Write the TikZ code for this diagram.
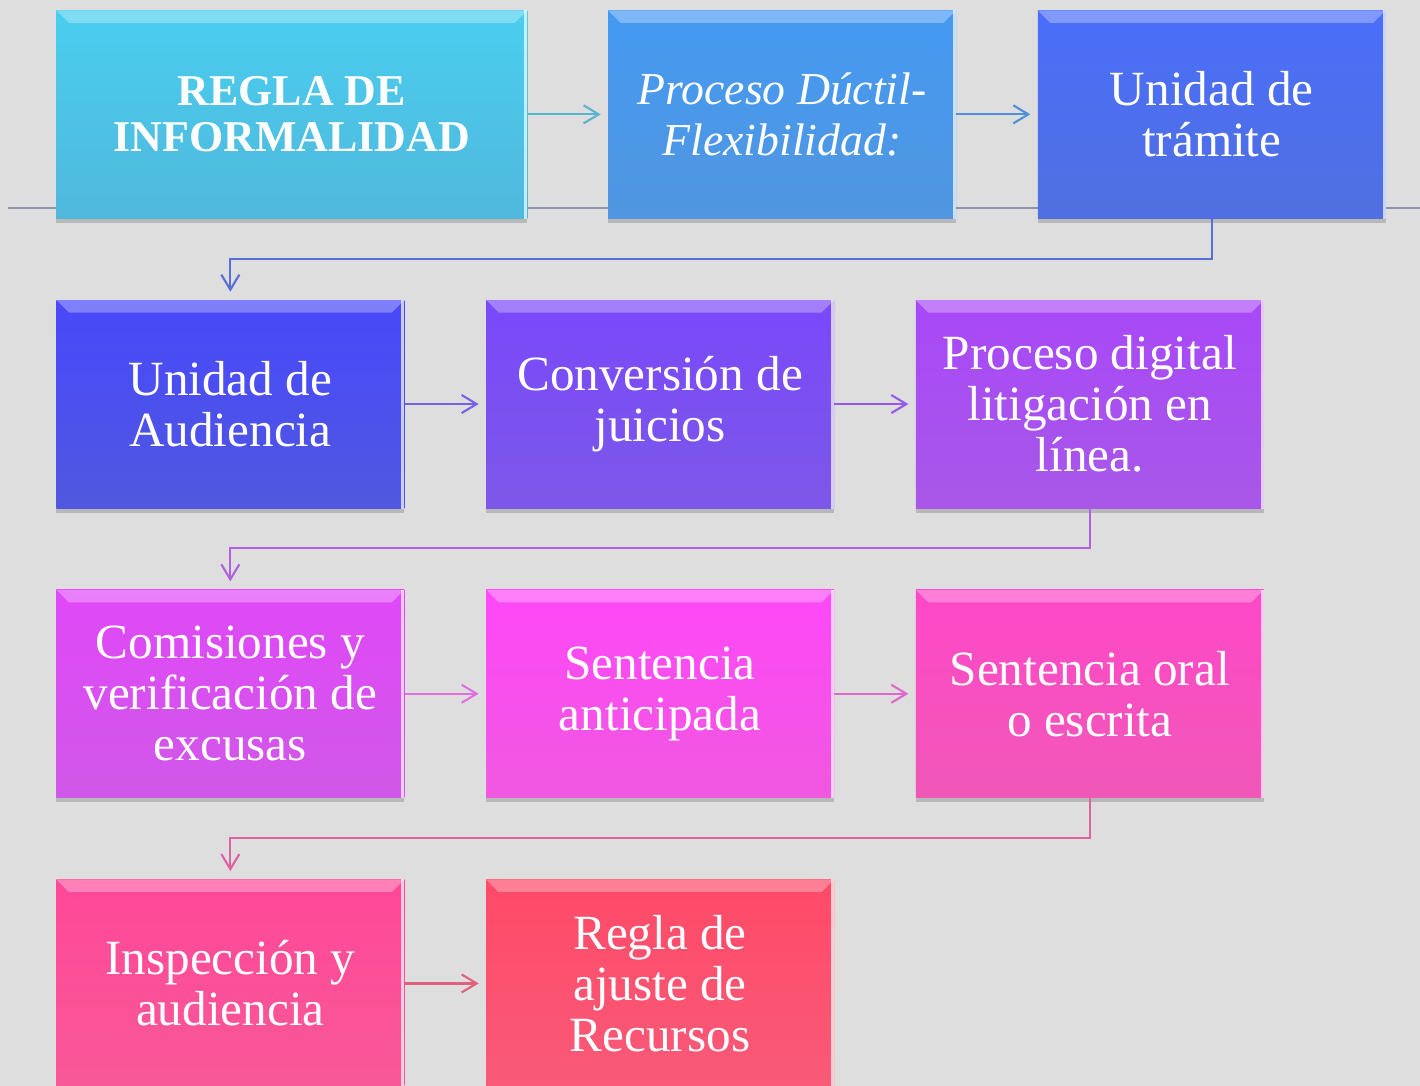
\documentclass[tikz,border=0pt]{standalone}
\usepackage{fontspec}
\setmainfont{Liberation Serif}
\usetikzlibrary{shapes, arrows.meta, positioning, calc, shadows}

\definecolor{bggray}{HTML}{DEDEDE}
\definecolor{rulegray}{HTML}{8894AC}
\definecolor{reglaTop}{HTML}{4ACEF0}\definecolor{reglaBot}{HTML}{50B8DC}
\definecolor{ductilTop}{HTML}{4599F2}\definecolor{ductilBot}{HTML}{5096E0}
\definecolor{tramiteTop}{HTML}{4A6EFA}\definecolor{tramiteBot}{HTML}{5070E0}
\definecolor{audienciaTop}{HTML}{4848FA}\definecolor{audienciaBot}{HTML}{5058E0}
\definecolor{conversionTop}{HTML}{7A48FA}\definecolor{conversionBot}{HTML}{7C58E8}
\definecolor{digitalTop}{HTML}{A848F8}\definecolor{digitalBot}{HTML}{A858E8}
\definecolor{comisionesTop}{HTML}{E048F8}\definecolor{comisionesBot}{HTML}{D058E8}
\definecolor{anticipadaTop}{HTML}{FF48F8}\definecolor{anticipadaBot}{HTML}{F058E0}
\definecolor{oralTop}{HTML}{FF48C8}\definecolor{oralBot}{HTML}{F058B8}
\definecolor{inspeccionTop}{HTML}{FF4898}\definecolor{inspeccionBot}{HTML}{F85898}
\definecolor{ajusteTop}{HTML}{FF4A68}\definecolor{ajusteBot}{HTML}{F85A78}

\tikzset{
	box/.style={rectangle, minimum width=6.96cm, minimum height=4.16cm, align=center, text=white,
		font=\fontsize{28}{29}\selectfont, top color=#1Top, bottom color=#1Bot,
		drop shadow={shadow xshift=0cm, shadow yshift=-0.09cm, opacity=0.4},
		path picture={
			\fill[white, opacity=0.3] (path picture bounding box.north west) -- (path picture bounding box.north east)
				-- ++(-0.25,-0.25) -- ($(path picture bounding box.north west)+(0.25,-0.25)$) -- cycle;
			\fill[white, opacity=0.7] (path picture bounding box.north east) rectangle ++(-0.06,-4.2);
		}},
	link/.style={line width=1.2pt, -{Straight Barb[length=3mm, width=3.6mm]}}
}

\begin{document}
\begin{tikzpicture}[node distance=1.62cm]
	\fill[bggray] (0,0) rectangle (28.4,-21.72);
	\useasboundingbox (0,0) rectangle (28.4,-21.72);
	\draw[rulegray, line width=1.1pt] (0.16,-4.16) -- (28.4,-4.16);

	\node[box=regla, minimum width=9.42cm, anchor=north west, font=\bfseries\fontsize{25}{26}\selectfont] (regla) at (1.12,-0.2) {REGLA DE\\INFORMALIDAD};
	\node[box=ductil, right=1.6cm of regla, font=\itshape\fontsize{26}{29}\selectfont] (ductil) {Proceso Dúctil-\\Flexibilidad:};
	\node[box=tramite, right=of ductil] (tramite) {Unidad de\\trámite};

	\node[box=audiencia, below=of regla.south west, anchor=north west] (audiencia) {Unidad de\\Audiencia};
	\node[box=conversion, right=of audiencia] (conversion) {Conversión de\\juicios};
	\node[box=digital, right=of conversion] (digital) {Proceso digital\\litigación en\\línea.};

	\node[box=comisiones, below=of audiencia] (comisiones) {Comisiones y\\verificación de\\excusas};
	\node[box=anticipada, right=of comisiones] (anticipada) {Sentencia\\anticipada};
	\node[box=oral, right=of anticipada] (oral) {Sentencia oral\\o escrita};

	\node[box=inspeccion, below=of comisiones] (inspeccion) {Inspección y\\audiencia};
	\node[box=ajuste, right=of inspeccion] (ajuste) {Regla de\\ajuste de\\Recursos};

	\draw[link, color={rgb,255:red,90;green,180;blue,208}] (regla.east) -- ([xshift=-0.14cm]ductil.west);
	\draw[link, color={rgb,255:red,80;green,144;blue,216}] (ductil.east) -- ([xshift=-0.14cm]tramite.west);
	\draw[link, color={rgb,255:red,90;green,110;blue,216}] (tramite.south) -- ++(0,-0.8) -| ([yshift=0.16cm]audiencia.north);

	\draw[link, color={rgb,255:red,120;green,96;blue,232}] (audiencia.east) -- ([xshift=-0.14cm]conversion.west);
	\draw[link, color={rgb,255:red,150;green,90;blue,232}] (conversion.east) -- ([xshift=-0.14cm]digital.west);
	\draw[link, color={rgb,255:red,176;green,96;blue,224}] (digital.south) -- ++(0,-0.8) -| ([yshift=0.16cm]comisiones.north);

	\draw[link, color={rgb,255:red,224;green,112;blue,224}] (comisiones.east) -- ([xshift=-0.14cm]anticipada.west);
	\draw[link, color={rgb,255:red,224;green,104;blue,200}] (anticipada.east) -- ([xshift=-0.14cm]oral.west);
	\draw[link, color={rgb,255:red,224;green,96;blue,160}] (oral.south) -- ++(0,-0.8) -| ([yshift=0.16cm]inspeccion.north);

	\draw[link, color={rgb,255:red,224;green,96;blue,128}] (inspeccion.east) -- ([xshift=-0.14cm]ajuste.west);
\end{tikzpicture}
\end{document}
